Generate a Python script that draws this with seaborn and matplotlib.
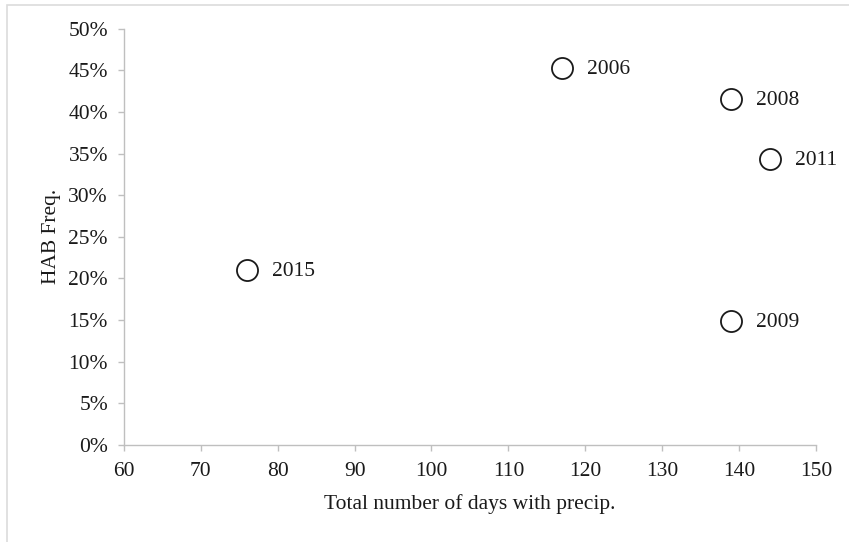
import numpy as np
import pandas as pd
import seaborn as sns
import matplotlib.pyplot as plt
from matplotlib.patches import Rectangle
from matplotlib.ticker import PercentFormatter

# values
years = ["2006", "2008", "2011", "2015", "2009"]
precip_days = [117, 139, 144, 76, 139]
hab_freq = [0.453, 0.415, 0.343, 0.210, 0.149]

df = pd.DataFrame({"year": years, "days": precip_days, "freq": hab_freq})

sns.set_theme(style="white")
plt.rcParams["font.family"] = ["Liberation Serif", "DejaVu Serif"]

fig = plt.figure(figsize=(8.49, 5.42), dpi=100)
ax = fig.add_axes([0.146, 0.179, 0.815, 0.768])

sns.scatterplot(data=df, x="days", y="freq", ax=ax, s=230, marker="o",
                facecolor="white", edgecolor="#1a1a1a", linewidth=1.3, zorder=3)

for _, row in df.iterrows():
    ax.annotate(row["year"], (row["days"], row["freq"]), xytext=(18, -1),
                textcoords="offset points", va="center", ha="left",
                fontsize=15.5, color="#1a1a1a")

ax.set_xlim(60, 150)
ax.set_ylim(0, 0.5)
ax.set_xticks(np.arange(60, 151, 10))
ax.set_yticks(np.arange(0, 0.501, 0.05))
ax.yaxis.set_major_formatter(PercentFormatter(1.0, decimals=0))

for side in ["top", "right"]:
    ax.spines[side].set_visible(False)
for side in ["left", "bottom"]:
    ax.spines[side].set_color("#bfbfbf")
    ax.spines[side].set_linewidth(1.0)

ax.tick_params(axis="both", direction="out", length=4.5, width=1.0,
               color="#bfbfbf", labelsize=15.5, labelcolor="#1a1a1a",
               left=True, bottom=True)
ax.tick_params(axis="y", pad=7)
ax.tick_params(axis="x", pad=8)

ax.set_xlabel("Total number of days with precip.", fontsize=15.5,
              color="#1a1a1a", labelpad=9)
ax.set_ylabel("HAB Freq.", fontsize=15.5, color="#1a1a1a", labelpad=5)

# light frame around the chart area (top and left edges visible)
fig.add_artist(Rectangle((7 / 849, -0.1), 1.2, 1.1 - 5 / 542,
                         transform=fig.transFigure, fill=False,
                         edgecolor="#dcdcdc", linewidth=1.2))

fig.savefig("out.png", dpi=100)
